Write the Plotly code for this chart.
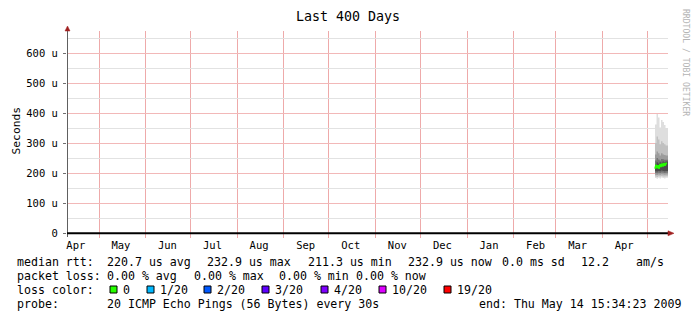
import plotly.graph_objects as go

# ---------------- data ----------------
x_start = "2008-04-09 15:34:23"
x_end = "2009-05-14 15:34:23"

month_starts = ["2008-05-01", "2008-06-01", "2008-07-01", "2008-08-01", "2008-09-01",
                "2008-10-01", "2008-11-01", "2008-12-01", "2009-01-01", "2009-02-01",
                "2009-03-01", "2009-04-01", "2009-05-01"]
month_label_dates = ["2008-04-15 12:00", "2008-05-15 12:00", "2008-06-15 12:00", "2008-07-15 12:00",
                     "2008-08-15 12:00", "2008-09-15 12:00", "2008-10-15 12:00", "2008-11-15 12:00",
                     "2008-12-15 12:00", "2009-01-15 12:00", "2009-02-15 12:00", "2009-03-15 12:00",
                     "2009-04-15 12:00"]
month_labels = ["Apr", "May", "Jun", "Jul", "Aug", "Sep", "Oct", "Nov", "Dec", "Jan", "Feb", "Mar", "Apr"]

y_tick_vals = [0, 100, 200, 300, 400, 500, 600]
y_tick_text = ["0", "100 u", "200 u", "300 u", "400 u", "500 u", "600 u"]
y_minor_vals = [50, 150, 250, 350, 450, 550, 650]

smoke_dates = ["2009-05-06", "2009-05-07", "2009-05-08", "2009-05-09", "2009-05-10",
               "2009-05-11", "2009-05-12", "2009-05-13", "2009-05-14 15:34:23"]
# smoke bands (outer -> inner), values in microseconds
band1_lo = [183, 181, 184, 182, 185, 183, 182, 184, 184]
band1_hi = [362, 397, 385, 352, 377, 370, 360, 350, 350]
band2_lo = [188, 187, 189, 188, 190, 188, 188, 189, 189]
band2_hi = [300, 322, 312, 296, 306, 300, 296, 292, 292]
band3_lo = [194, 193, 195, 194, 196, 195, 194, 195, 195]
band3_hi = [262, 272, 266, 258, 266, 262, 260, 258, 258]
band4_lo = [200, 199, 201, 200, 202, 201, 200, 201, 201]
band4_hi = [242, 250, 245, 242, 247, 246, 244, 244, 244]
band5_lo = [206, 205, 207, 206, 208, 207, 206, 207, 207]
band5_hi = [228, 236, 232, 236, 234, 238, 236, 238, 238]
median_dates = ["2009-05-06", "2009-05-06 16:00", "2009-05-07 08:00", "2009-05-08", "2009-05-08 16:00",
                "2009-05-09 08:00", "2009-05-10", "2009-05-10 16:00", "2009-05-11 08:00",
                "2009-05-12", "2009-05-12 16:00", "2009-05-13 08:00", "2009-05-14"]
median = [214, 228, 216, 226, 214, 230, 220, 232, 222, 233, 224, 232, 232.9]

loss_labels = ["0", "1/20", "2/20", "3/20", "4/20", "10/20", "19/20"]
loss_colors = ["#26ff00", "#00b8ff", "#0059ff", "#5e00ff", "#7e00ff", "#dd00ff", "#ff0000"]

legend_line1 = [("median rtt:", 17), ("220.7 us avg", 107), ("232.9 us max", 207),
                ("211.3 us min", 308), ("232.9 us now", 408), ("0.0 ms sd", 502),
                ("12.2", 581), ("am/s", 636)]
legend_line2 = [("packet loss:", 17), ("0.00 % avg", 107), ("0.00 % max", 194),
                ("0.00 % min", 279), ("0.00 % now", 356)]
legend_line4 = [("probe:", 17), ("20 ICMP Echo Pings (56 Bytes) every 30s", 107),
                ("end: Thu May 14 15:34:23 2009", 479)]
loss_square_x = [110, 147, 204, 262, 321, 379, 444]

# ---------------- layout helpers ----------------
W, H = 697, 321
L, R, T, B = 67, 29, 31, 88
PW = W - L - R
PH = H - T - B


def px(x):
    return (x - L) / PW


def py(y):
    return (H - B - y) / PH


FONT = "DejaVu Sans Mono"
PINK = "#eeaaaa"
PINK_H = "#f2b8b8"
GRAY = "#e2e2e2"

fig = go.Figure()

bands = [(band1_lo, band1_hi, "#dedede"), (band2_lo, band2_hi, "#c0c0c0"),
         (band3_lo, band3_hi, "#9c9c9c"), (band4_lo, band4_hi, "#747474"),
         (band5_lo, band5_hi, "#4c4c4c")]
for lo, hi, col in bands:
    fig.add_trace(go.Scatter(x=smoke_dates, y=lo, mode="lines", line=dict(width=0, shape="hv"),
                             hoverinfo="skip", showlegend=False))
    fig.add_trace(go.Scatter(x=smoke_dates, y=hi, mode="lines", line=dict(width=0, shape="hv"),
                             fill="tonexty", fillcolor=col, hoverinfo="skip", showlegend=False))

fig.add_trace(go.Scatter(x=median_dates, y=median, mode="lines",
                         line=dict(color=loss_colors[0], width=1.6), showlegend=False))

fig.update_layout(
    width=W, height=H,
    margin=dict(l=L, r=R, t=T, b=B, pad=0),
    paper_bgcolor="white", plot_bgcolor="white",
    showlegend=False,
    title=dict(text="Last 400 Days", x=px(348), xanchor="center", xref="paper",
               y=1 - 16 / H, yanchor="middle", yref="container",
               font=dict(family=FONT, size=13.3, color="black")),
    xaxis=dict(type="date", range=[x_start, x_end], tickmode="array",
               tickvals=month_label_dates, ticktext=month_labels, ticks="", showgrid=False,
               zeroline=False, showline=False, ticklabelstandoff=4,
               tickfont=dict(family=FONT, size=10.5, color="black"),
               minor=dict(tickmode="array", tickvals=month_starts, showgrid=True, gridcolor=PINK,
                          gridwidth=1, ticks="outside", ticklen=4, tickcolor=PINK)),
    yaxis=dict(range=[0, PH / 0.3], tickmode="array", tickvals=y_tick_vals, ticktext=y_tick_text,
               ticks="outside", ticklen=3, tickcolor="#707070", showgrid=True, gridcolor=PINK_H,
               zeroline=False, showline=False, ticklabelstandoff=3,
               tickfont=dict(family=FONT, size=10.5, color="black"),
               minor=dict(tickmode="array", tickvals=y_minor_vals, showgrid=True,
                          gridcolor=GRAY, ticks="")),
)

shapes = []
# y axis line + arrow
shapes.append(dict(type="line", xref="paper", yref="paper", x0=px(67.5), x1=px(67.5),
                   y0=py(237), y1=py(30), line=dict(color="#606060", width=1)))
shapes.append(dict(type="path", xref="paper", yref="paper",
                   path=f"M {px(65)} {py(31)} L {px(70)} {py(31)} L {px(67.5)} {py(26)} Z",
                   fillcolor="#a02020", line=dict(color="#a02020", width=0.5)))
# x axis line + arrow
shapes.append(dict(type="line", xref="paper", yref="paper", x0=px(67), x1=px(669),
                   y0=py(233.3), y1=py(233.3), line=dict(color="black", width=2)))
shapes.append(dict(type="path", xref="paper", yref="paper",
                   path=f"M {px(668)} {py(230.8)} L {px(668)} {py(235.8)} L {px(674)} {py(233.3)} Z",
                   fillcolor="#a02020", line=dict(color="#a02020", width=0.5)))
# loss colour squares
for xs, col in zip(loss_square_x, loss_colors):
    shapes.append(dict(type="rect", xref="paper", yref="paper",
                       x0=px(xs), x1=px(xs + 7), y0=py(293), y1=py(286),
                       fillcolor=col, line=dict(color="black", width=1)))
fig.update_layout(shapes=shapes)

ann = []


def text(s, x, y, size=11.6, color="black", anchor="left", angle=0):
    ann.append(dict(text=s, xref="paper", yref="paper", x=px(x), y=py(y), xanchor=anchor,
                    yanchor="middle", showarrow=False, textangle=angle, borderpad=0, borderwidth=0,
                    font=dict(family=FONT, size=size, color=color)))


for s, x in legend_line1:
    text(s, x, 261.5)
for s, x in legend_line2:
    text(s, x, 275.5)
text("loss color:", 17, 289.5)
for xs, lab in zip(loss_square_x, loss_labels):
    text(lab, xs + 13, 289.5)
for s, x in legend_line4:
    text(s, x, 303.5)

text("Seconds", 15.5, 131, size=11.3, anchor="center", angle=-90)
text("RRDTOOL / TOBI OETIKER", 686.5, 62.5, size=8.1, color="#b4b4b4", anchor="center", angle=90)

fig.update_layout(annotations=ann)

fig.write_html("out.html")
